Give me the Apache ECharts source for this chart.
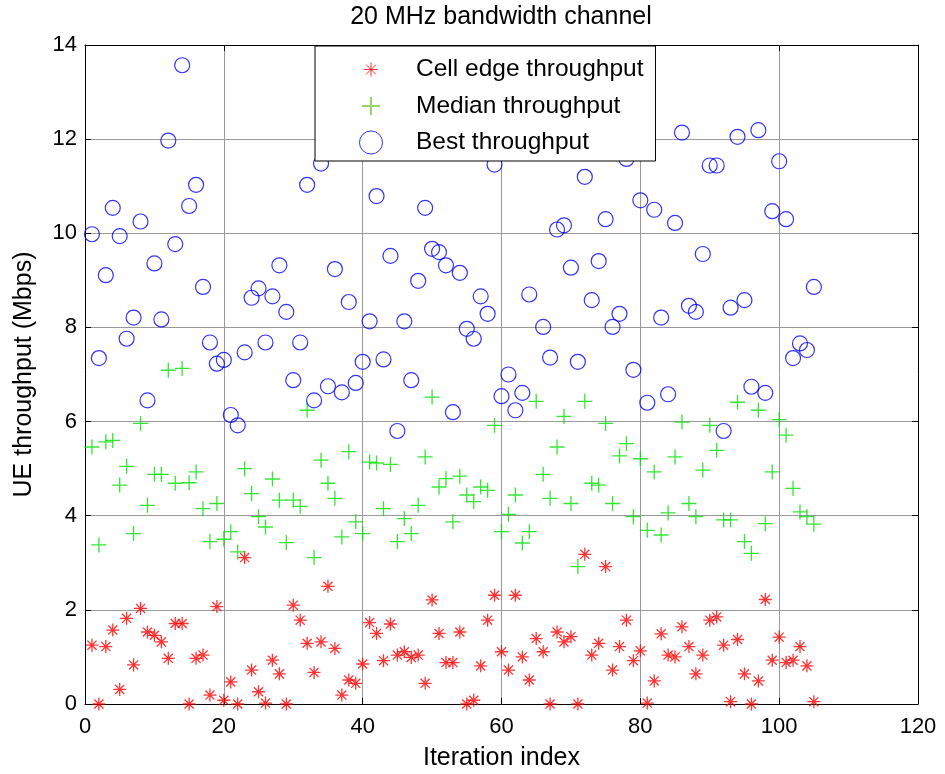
<!DOCTYPE html>
<html>
<head>
<meta charset="utf-8">
<script src="https://cdn.jsdelivr.net/npm/echarts@6/dist/echarts.min.js"></script>
<style>
  html, body { margin: 0; padding: 0; background: #fff; }
  #chart { width: 945px; height: 774px; }
</style>
</head>
<body>
<div id="chart"></div>
<script>
// iteration index of every sample
const iterations = [
  1, 2, 3, 4, 5, 6, 7, 8, 9, 10, 11, 12, 13, 14, 15, 16, 17, 18, 19, 20,
  21, 22, 23, 24, 25, 26, 27, 28, 29, 30, 31, 32, 33, 34, 35, 36, 37, 38, 39, 40,
  41, 42, 43, 44, 45, 46, 47, 48, 49, 50, 51, 52, 53, 54, 55, 56, 57, 58, 59, 60,
  61, 62, 63, 64, 65, 66, 67, 68, 69, 70, 71, 72, 73, 74, 75, 76, 77, 78, 79, 80,
  81, 82, 83, 84, 85, 86, 87, 88, 89, 90, 91, 92, 93, 94, 95, 96, 97, 98, 99, 100,
  101, 102, 103, 104, 105
];

const cellEdge = [
  1.25, 0.0, 1.22, 1.57, 0.31, 1.82, 0.83, 2.03, 1.53, 1.46,
  1.32, 0.97, 1.71, 1.71, 0.0, 0.97, 1.04, 0.19, 2.07, 0.08,
  0.47, 0.0, 3.11, 0.72, 0.26, 0.02, 0.93, 0.64, 0.0, 2.1,
  1.78, 1.29, 0.67, 1.32, 2.5, 1.18, 0.19, 0.51, 0.44, 0.85,
  1.73, 1.5, 0.92, 1.7, 1.04, 1.11, 0.99, 1.04, 0.44, 2.21,
  1.5, 0.88, 0.88, 1.53, 0.0, 0.08, 0.81, 1.78, 2.31, 1.11,
  0.72, 2.31, 1.0, 0.51, 1.39, 1.11, 0.0, 1.53, 1.32, 1.43,
  0.0, 3.18, 1.04, 1.29, 2.92, 0.72, 1.22, 1.78, 0.92, 1.13,
  0.02, 0.49, 1.49, 1.04, 1.0, 1.64, 1.22, 0.64, 1.04, 1.78,
  1.85, 1.25, 0.05, 1.37, 0.64, 0.0, 0.49, 2.22, 0.93, 1.42,
  0.88, 0.93, 1.22, 0.81, 0.05
];

const median = [
  5.46, 3.38, 5.57, 5.6, 4.65, 5.05, 3.62, 5.96, 4.22, 4.88,
  4.88, 7.09, 4.69, 7.13, 4.7, 4.93, 4.15, 3.45, 4.26, 3.5,
  3.66, 3.23, 5.0, 4.47, 3.98, 3.76, 4.78, 4.33, 3.43, 4.33,
  4.2, 6.24, 3.11, 5.18, 4.69, 4.37, 3.55, 5.36, 3.87, 3.62,
  5.14, 5.12, 4.15, 5.09, 3.45, 3.94, 3.62, 4.22, 5.25, 6.52,
  4.61, 4.79, 3.87, 4.84, 4.44, 4.3, 4.61, 4.54, 5.92, 3.66,
  4.03, 4.44, 3.42, 3.66, 6.43, 4.88, 4.37, 5.46, 6.11, 4.26,
  2.92, 6.43, 4.69, 4.65, 5.96, 4.26, 5.27, 5.53, 3.98, 5.21,
  3.69, 4.93, 3.59, 4.06, 5.25, 5.99, 4.26, 3.98, 4.97, 5.92,
  5.39, 3.91, 3.91, 6.41, 3.45, 3.2, 6.24, 3.83, 4.93, 6.04,
  5.71, 4.58, 4.08, 3.98, 3.82
];

const best = [
  9.98, 7.35, 9.11, 10.54, 9.94, 7.76, 8.21, 10.25, 6.45, 9.36,
  8.17, 11.97, 9.77, 13.57, 10.58, 11.03, 8.86, 7.68, 7.23, 7.31,
  6.14, 5.92, 7.47, 8.63, 8.83, 7.68, 8.66, 9.32, 8.33, 6.88,
  7.68, 11.03, 6.45, 11.48, 6.75, 9.24, 6.62, 8.54, 6.82, 7.27,
  8.13, 10.79, 7.32, 9.52, 5.8, 8.13, 6.88, 8.99, 10.54, 9.67,
  9.6, 9.32, 6.2, 9.16, 7.97, 7.76, 8.66, 8.29, 11.46, 6.54,
  7.0, 6.24, 6.61, 8.7, 12.5, 8.01, 7.36, 10.08, 10.17, 9.27,
  7.27, 11.2, 8.58, 9.41, 10.3, 8.01, 8.29, 11.58, 7.1, 10.7,
  6.4, 10.5, 8.21, 6.58, 10.22, 12.14, 8.46, 8.33, 9.56, 11.44,
  11.44, 5.8, 8.42, 12.05, 8.58, 6.74, 12.19, 6.61, 10.47, 11.53,
  10.3, 7.35, 7.66, 7.52, 8.86
];

const seriesNames = ['Cell edge throughput', 'Median throughput', 'Best throughput'];
const xTicks = { min: 0, max: 120, interval: 20 };
const yTicks = { min: 0, max: 14, interval: 2 };

const FONT = '"Liberation Sans", Arial, sans-serif';
const STAR = 'path://M0,5L10,5M5,0L5,10M1.5,1.5L8.5,8.5M8.5,1.5L1.5,8.5';
const PLUS = 'path://M0,5L10,5M5,0L5,10';
// legend icons are padded so they keep the reference's smaller size
const STAR_LEG = 'path://M-5.7,-5.7M15.7,15.7M0,5L10,5M5,0L5,10M1.5,1.5L8.5,8.5M8.5,1.5L1.5,8.5';
const PLUS_LEG = 'path://M-3.3,-3.3M13.3,13.3M0,5L10,5M5,0L5,10';
const CIRC_LEG = 'path://M-1.5,-1.5M11.5,11.5M0,5A5,5,0,1,1,10,5A5,5,0,1,1,0,5Z';

function pairs(ys) {
  return iterations.map((x, i) => [x, ys[i]]);
}

function axis(extra, ticks) {
  return Object.assign({
    type: 'value',
    min: ticks.min,
    max: ticks.max,
    interval: ticks.interval,
    axisLine: { show: true, onZero: false, lineStyle: { color: '#000', width: 1 } },
    axisTick: { show: true, inside: true, length: 6, lineStyle: { color: '#000' } },
    axisLabel: { show: false },
    splitLine: { show: false }
  }, extra);
}

const chart = echarts.init(document.getElementById('chart'));
chart.setOption({
  animation: false,
  backgroundColor: '#fff',
  title: {
    text: '20 MHz bandwidth channel',
    left: 501,
    top: 5,
    padding: 0,
    textAlign: 'center',
    textStyle: { fontFamily: FONT, fontSize: 25, fontWeight: 'normal', color: '#000' }
  },
  grid: { left: 85, right: 27, top: 45, bottom: 70, containLabel: false, outerBoundsMode: 'none' },
  xAxis: [
    axis({
      position: 'bottom',
      name: 'Iteration index',
      nameLocation: 'middle',
      nameGap: 42,
      nameTextStyle: { fontFamily: FONT, fontSize: 25, color: '#000' },
      axisLabel: { show: true, margin: 12, fontFamily: FONT, fontSize: 22, color: '#000' },
      splitLine: { show: true, lineStyle: { color: '#999', width: 1 } }
    }, xTicks),
    axis({ position: 'top' }, xTicks)
  ],
  yAxis: [
    axis({
      position: 'left',
      name: 'UE throughput (Mbps)',
      nameLocation: 'middle',
      nameGap: 48,
      nameTextStyle: { fontFamily: FONT, fontSize: 25, color: '#000' },
      axisLabel: { show: true, margin: 8, fontFamily: FONT, fontSize: 22, color: '#000' },
      splitLine: { show: true, lineStyle: { color: '#999', width: 1 } }
    }, yTicks),
    axis({ position: 'right' }, yTicks)
  ],
  legend: {
    orient: 'vertical',
    left: 315,
    top: 46,
    z: 20,
    padding: [8, 12, 3, 40],
    itemGap: 5,
    itemWidth: 80,
    itemHeight: 30,
    selectedMode: false,
    backgroundColor: '#fff',
    borderColor: '#000',
    borderWidth: 1,
    borderRadius: 0,
    textStyle: { fontFamily: FONT, fontSize: 24.5, color: '#000' },
    data: [
      { name: seriesNames[0], icon: STAR_LEG, itemStyle: { color: 'transparent', borderColor: '#ff0000', borderWidth: 1 } },
      { name: seriesNames[1], icon: PLUS_LEG, itemStyle: { color: 'transparent', borderColor: '#7ccc3c', borderWidth: 2 } },
      { name: seriesNames[2], icon: CIRC_LEG, itemStyle: { color: 'transparent', borderColor: '#0000ff', borderWidth: 1 } }
    ]
  },
  series: [
    {
      name: seriesNames[0],
      type: 'scatter',
      data: pairs(cellEdge),
      symbol: STAR,
      symbolSize: 13,
      itemStyle: { color: 'transparent', borderColor: '#ff0000', borderWidth: 1.3 },
      z: 2
    },
    {
      name: seriesNames[1],
      type: 'scatter',
      data: pairs(median),
      symbol: PLUS,
      symbolSize: 15,
      itemStyle: { color: 'transparent', borderColor: '#00e000', borderWidth: 1.3 },
      z: 3
    },
    {
      name: seriesNames[2],
      type: 'scatter',
      data: pairs(best),
      symbol: 'circle',
      symbolSize: 15,
      itemStyle: { color: 'transparent', borderColor: '#0000ff', borderWidth: 1.2 },
      z: 4
    }
  ]
});
</script>
</body>
</html>
